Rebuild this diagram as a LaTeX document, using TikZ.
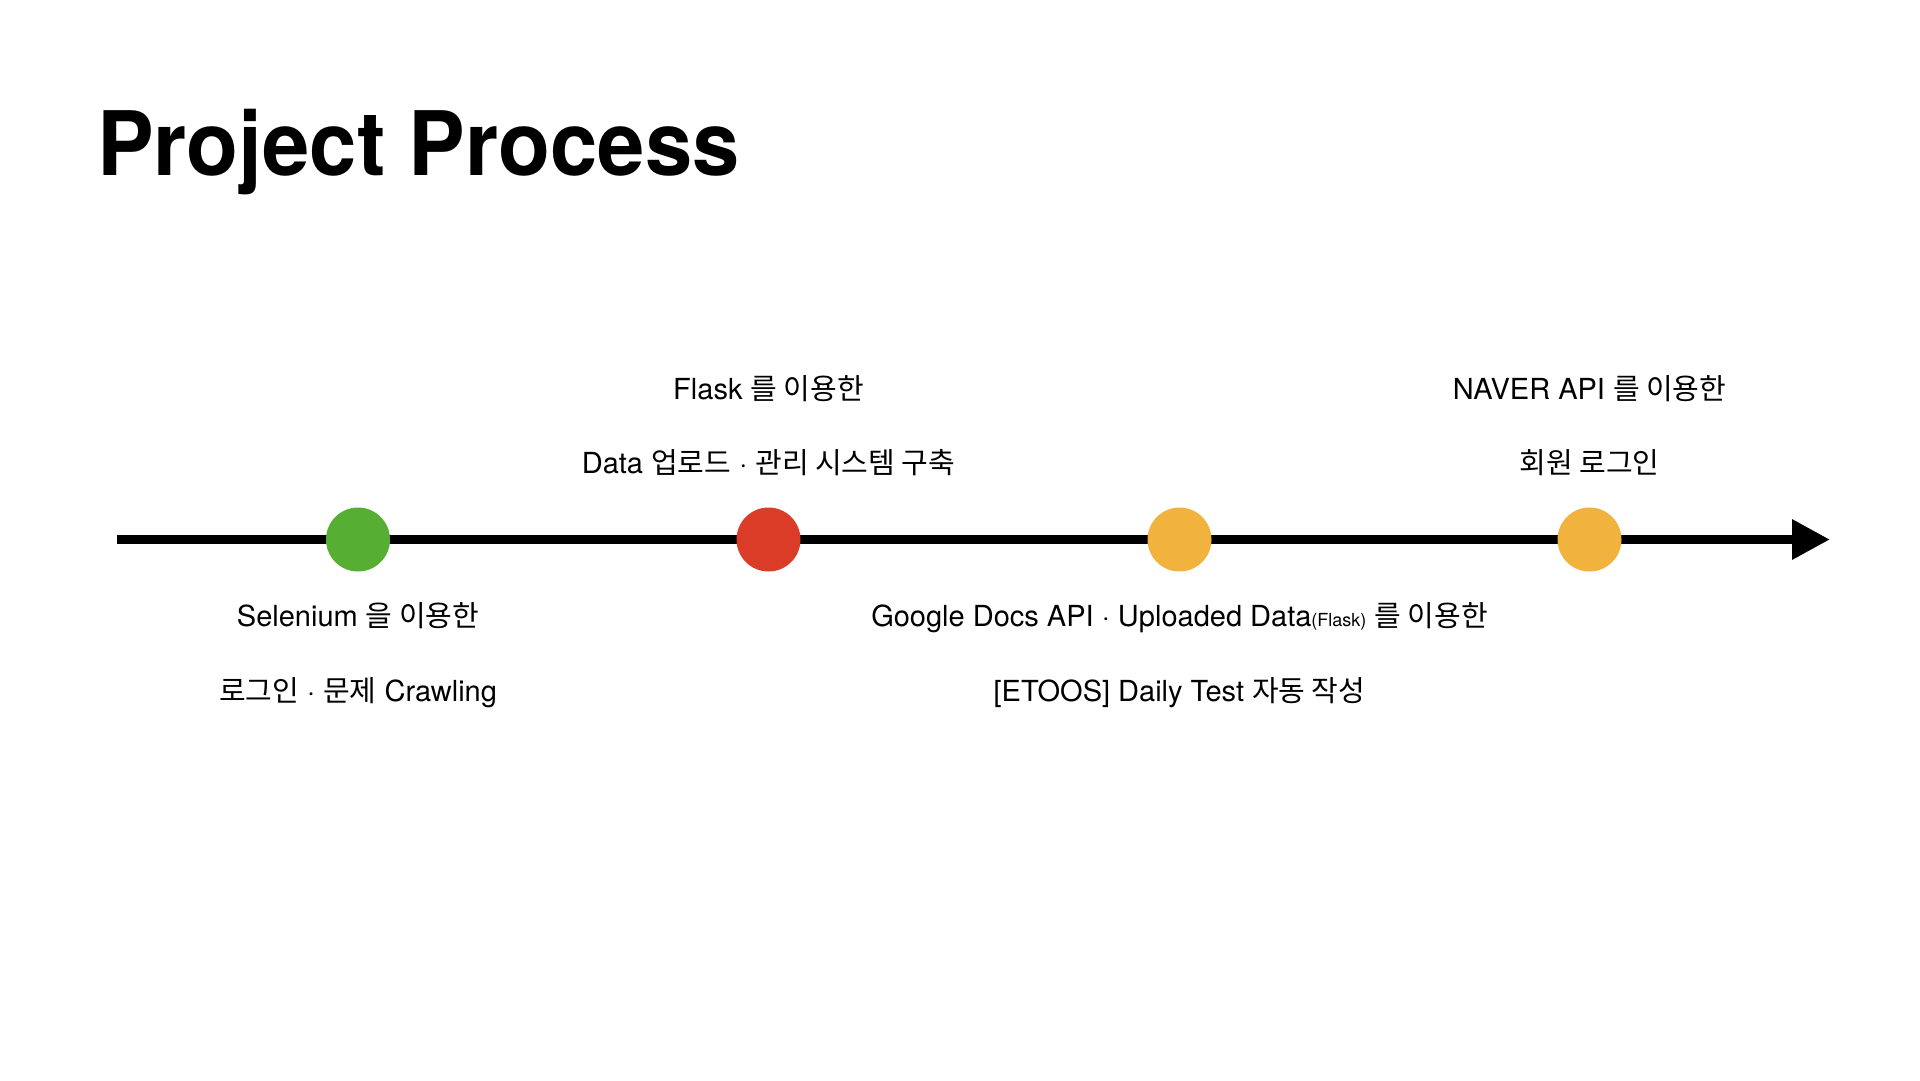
\documentclass[tikz,border=0pt]{standalone}
\usepackage{fontspec}
\setmainfont{TeX Gyre Heros}
\newfontfamily\hgfont{Noto Sans CJK KR}
\newcommand\hg[1]{{\hgfont #1}}
\usetikzlibrary{arrows.meta}
\definecolor{dotgreen}{RGB}{86,174,51}
\definecolor{dotred}{RGB}{219,60,40}
\definecolor{dotorange}{RGB}{242,178,62}
\tikzset{
  dot/.style={circle, minimum size=64pt, inner sep=0pt, draw=none},
  lbl/.style={anchor=base, inner sep=0pt, font=\fontsize{29}{34}\selectfont},
  timeline/.style={line width=9.3pt, -{Triangle[length=38pt,width=38pt]}},
}
\begin{document}
\begin{tikzpicture}[x=1pt,y=-1pt]
\useasboundingbox (0,0) rectangle (1920,1080);
\node[anchor=base west, inner sep=0pt, font=\fontsize{89}{100}\selectfont\bfseries] (title) at (97,175.7) {\scalebox{0.955}[1]{Project Process}};
\coordinate (start) at (117,539.5);
\coordinate (end) at (1830,539.5);
\draw[timeline] (start) -- (end);
\node[dot, fill=dotgreen] (d1) at (358,539.5) {};
\node[dot, fill=dotred] (d2) at (768.5,539.5) {};
\node[dot, fill=dotorange] (d3) at (1179.5,539.5) {};
\node[dot, fill=dotorange] (d4) at (1589.5,539.5) {};
% top labels
\node[lbl] (t2a) at (768.5,399) {Flask \hg{를 이용한}};
\node[lbl] (t2b) at (768.5,473) {Data \hg{업로드} · \hg{관리 시스템 구축}};
\node[lbl] (t4a) at (1589.5,399) {NAVER API \hg{를 이용한}};
\node[lbl] (t4b) at (1589.5,473) {\hg{회원 로그인}};
% bottom labels
\node[lbl] (b1a) at (358,626) {Selenium \hg{을 이용한}};
\node[lbl] (b1b) at (358,701) {\hg{로그인} · \hg{문제} Crawling};
\node[lbl] (b3a) at (1179.5,626) {Google Docs API · Uploaded Data{\fontsize{18}{20}\selectfont(Flask)} \hg{를 이용한}};
\node[lbl] (b3b) at (1179.5,701) {[ETOOS] Daily Test \hg{자동 작성}};
\end{tikzpicture}
\end{document}
